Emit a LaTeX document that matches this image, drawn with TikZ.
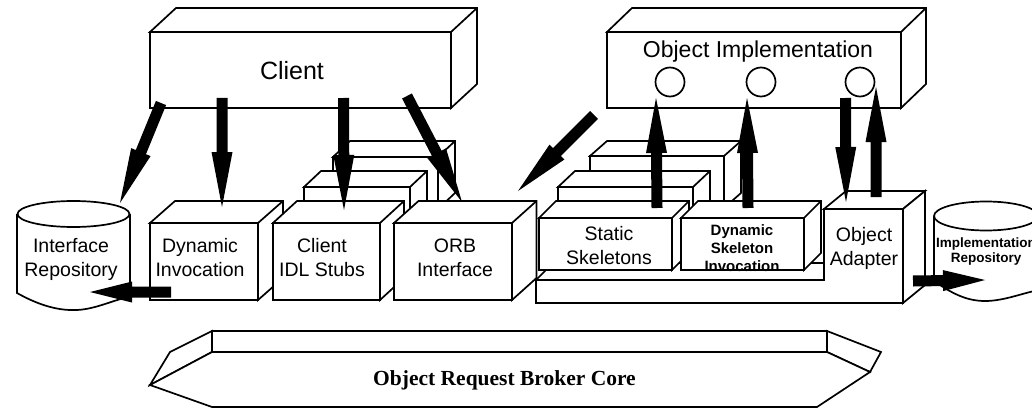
\documentclass[tikz,border=0pt]{standalone}
\usepackage{fontspec}
\setmainfont{Liberation Sans}
\newfontfamily\orbfont{Liberation Serif}
\usetikzlibrary{calc}

\tikzset{
  face/.style={draw, fill=white, inner sep=0pt, outer sep=0pt},
  lbl/.style={align=center, inner sep=0pt, font=\fontsize{19.5}{23.5}\selectfont},
  lblb/.style={align=center, inner sep=0pt, font=\bfseries\fontsize{15}{18}\selectfont},
  port/.style={draw, fill=white, circle, minimum size=29pt, inner sep=0pt},
}

% 3D box: name, x1, y1, x2, y2 (front face), dx, dy (depth)
\newcommand\drawcube[7]{%
  \filldraw[fill=white] (#2,#3) -- ++(#6,-#7) -- ++(#4-#2,0) -- ++(0,#5-#3)
      -- (#4,#5) -- (#4,#3) -- cycle;
  \draw (#4,#3) -- ++(#6,-#7);
  \node[face, minimum width={(#4-#2)*1pt}, minimum height={(#5-#3)*1pt},
        anchor=north west] (#1) at (#2,#3) {};
}

% thick arrow: [head length]{from}{to}
\newcommand\fatarrow[3][55]{%
  \coordinate (fa-h) at ($(#3)!#1pt!(#2)$);
  \fill ($(#2)!5.5pt!90:(#3)$) -- ($(fa-h)!5.5pt!-90:(#2)$)
     -- ($(fa-h)!10.5pt!-90:(#2)$) -- (#3) -- ($(fa-h)!10.5pt!90:(#2)$)
     -- ($(fa-h)!5.5pt!90:(#2)$) -- ($(#2)!5.5pt!-90:(#3)$) -- cycle;
}

\begin{document}
\begin{tikzpicture}[x=1pt, y=-1pt, line width=1.7pt, line join=miter]
\useasboundingbox (0,0) rectangle (1032,409);
\fill[white] (0,0) rectangle (1032,409);
\clip (0,0) rectangle (1032,409);

% ---------- Client ----------
\drawcube{client}{150}{32}{451}{108}{26}{24}
\node[font=\fontsize{25}{30}\selectfont, anchor=base, inner sep=0pt] (clientlbl) at (292,80) {Client};

% ---------- Object Implementation ----------
\drawcube{objimpl}{607}{32}{901}{108}{25}{24}
\node[font=\fontsize{23}{28}\selectfont, anchor=base, inner sep=0pt] (objimpllbl) at (758,58) {Object Implementation};
\node[port] (p1) at (670,82) {};
\node[port] (p2) at (761,82) {};
\node[port] (p3) at (860,82) {};

% ---------- Interface Repository ----------
\draw[fill=white] (17,214) -- (17,293) .. controls (35,303) and (55,311) .. (77,310)
   .. controls (97,309) and (115,299) .. (130,297) -- (130,214);
\draw[fill=white] (73.5,214) ellipse [x radius=56, y radius=13];
\node[lbl, anchor=base] (irep) at (71,276) {Interface\\Repository};

% ---------- Implementation Repository ----------
\draw[fill=white] (934,216) -- (934,281) .. controls (950,292) and (965,301) .. (985,301)
   .. controls (1005,301) and (1025,292) .. (1040,290) -- (1040,216);
\draw[fill=white] (986,216) ellipse [x radius=52, y radius=14.5];
\node[align=center, inner sep=0pt, font=\bfseries\fontsize{13.5}{14.5}\selectfont, anchor=base] (implrep) at (986,262) {Implementation\\Repository};

% ---------- stacked boxes (back) ----------
\drawcube{stubB}{333}{157}{438}{209}{17}{16}
\drawcube{stubA}{304}{187}{410}{239}{17}{16}
\drawcube{skelC}{590}{156}{724}{208}{17}{15}
\drawcube{skelD}{558}{187}{693}{239}{17}{16}

% ---------- front row, client side ----------
\drawcube{dii}{150}{223}{258}{300}{25}{22}
\node[lbl, anchor=base] (diilbl) at (200,276) {Dynamic\\Invocation};
\drawcube{stubs}{273}{223}{380}{300}{24}{22}
\node[lbl, anchor=base] (stubslbl) at (322,276) {Client\\IDL Stubs};
\drawcube{orbif}{394}{223}{512}{300}{24.5}{22}
\node[lbl, anchor=base] (orbiflbl) at (455,276) {ORB\\Interface};

% ---------- platform, skeletons, object adapter ----------
\filldraw[fill=white] (536,280) -- (553,263) -- (841,263) -- (824,280) -- cycle;
\drawcube{ssk}{539}{218}{672}{270}{17}{17}
\node[lbl, anchor=base] (ssklbl) at (609,264) {Static\\Skeletons};
\drawcube{dsi}{681}{218}{804}{270}{17}{17}
\node[lblb, anchor=base] (dsilbl) at (742,271) {Dynamic\\Skeleton\\Invocation};
\filldraw[fill=white] (824,209) -- (846,191) -- (925,191) -- (903,209) -- cycle;
\filldraw[fill=white] (903,209) -- (925,191) -- (925,285) -- (903,303) -- cycle;
\filldraw[fill=white] (536,280) -- (824,280) -- (824,209) -- (903,209) -- (903,303) -- (536,303) -- cycle;
\node[lbl, anchor=base] (oa) at (864,265) {Object\\Adapter};

% ---------- ORB core ----------
\filldraw[fill=white] (212,331) -- (827,331) -- (827,352) -- (212,352) -- cycle;
\filldraw[fill=white] (212,331) -- (170,352) -- (150,385) -- (212,352) -- cycle;
\filldraw[fill=white] (827,331) -- (881,352) -- (870,372) -- (827,352) -- cycle;
\filldraw[fill=white] (212,352) -- (827,352) -- (870,372) -- (817,407) -- (212,407) -- (150,385) -- cycle;
\node[font=\orbfont\bfseries\fontsize{21.5}{26}\selectfont, anchor=base, inner sep=0pt] (core) at (504.5,385) {Object Request Broker Core};

% ---------- arrows ----------
\coordinate (a1s) at (161,103);  \coordinate (a1e) at (120,203);
\coordinate (a2s) at (222,98);   \coordinate (a2e) at (222,207);
\coordinate (a3s) at (343.5,98); \coordinate (a3e) at (344,210);
\coordinate (a4s) at (407,96);   \coordinate (a4e) at (462,202);
\coordinate (a5s) at (594,115);  \coordinate (a5e) at (518,191);
\coordinate (a6s) at (657,208);  \coordinate (a6e) at (656,98);
\coordinate (a7s) at (748,208);  \coordinate (a7e) at (747,98);
\coordinate (a8s) at (845.5,98); \coordinate (a8e) at (846,202);
\coordinate (a9s) at (876,197);  \coordinate (a9e) at (876,87);
\coordinate (a10s) at (171,292); \coordinate (a10e) at (90,292);
\coordinate (a11s) at (913,281); \coordinate (a11e) at (985,280);

\fatarrow{a1s}{a1e}
\fatarrow{a2s}{a2e}
\fatarrow{a3s}{a3e}
\fatarrow{a4s}{a4e}
\fatarrow{a5s}{a5e}
\fatarrow{a6s}{a6e}
\fatarrow{a7s}{a7e}
\fatarrow{a8s}{a8e}
\fatarrow{a9s}{a9e}
\fatarrow[42]{a10s}{a10e}
\fatarrow[42]{a11s}{a11e}
\end{tikzpicture}
\end{document}
